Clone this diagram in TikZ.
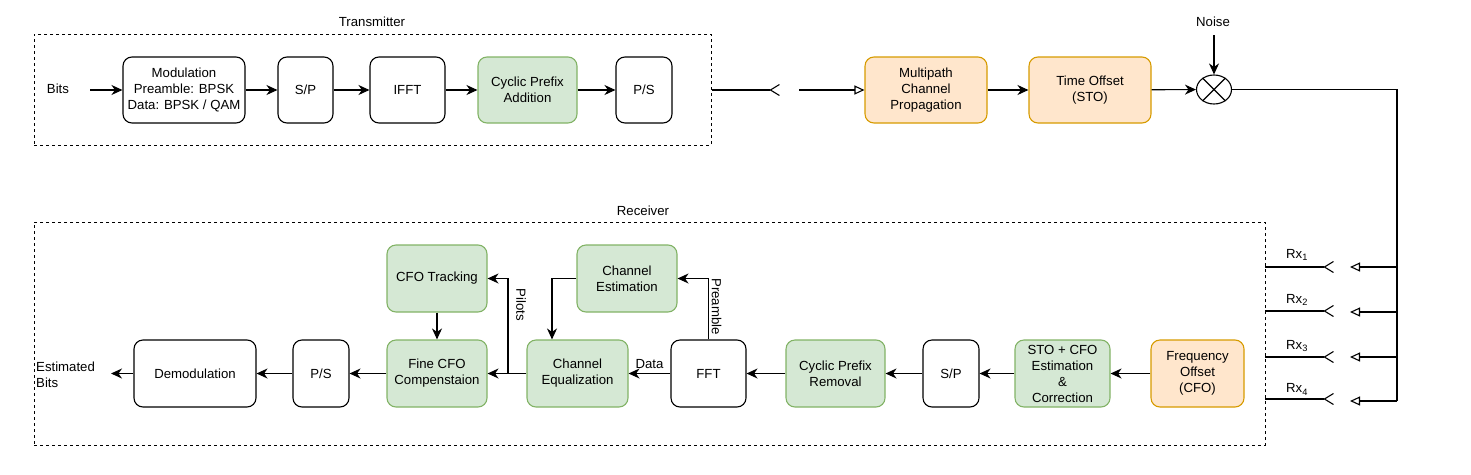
\documentclass[tikz,border=0pt]{standalone}
\usepackage{fontspec}
\setmainfont{Liberation Sans}
\usetikzlibrary{arrows.meta,shapes.geometric,calc}
\definecolor{gfill}{HTML}{D5E8D4}
\definecolor{gline}{HTML}{82B366}
\definecolor{ofill}{HTML}{FFE6CC}
\definecolor{oline}{HTML}{D79B00}
\tikzset{
  blk/.style={draw=black, rounded corners=9pt, line width=1.1pt, align=center, inner sep=2pt, fill=white, minimum height=66},
  grn/.style={blk, fill=gfill, draw=gline},
  org/.style={blk, fill=ofill, draw=oline},
  arr/.style={line width=1.1pt, -{Stealth[length=11pt,width=10pt,inset=3.5pt]}},
  otri/.style={line width=1.1pt, -{Triangle[open,length=10pt,width=9pt]}},
  barb/.style={line width=1.1pt, -{Straight Barb[reversed,length=9pt,width=11pt]}},
  wire/.style={line width=1.1pt},
  frame/.style={draw, dash pattern=on 3pt off 3pt, line width=1pt, inner sep=0pt},
  lbl/.style={inner sep=1pt}
}
\begin{document}
\begin{tikzpicture}[x=1pt,y=-1pt,font=\fontsize{13.2}{16}\selectfont]
\useasboundingbox (0,0) rectangle (1471,474);
% frames
\node[frame, minimum width=677, minimum height=111] (tx) at (372.5,89.5) {};
\node[lbl] (txl) at (372,22) {Transmitter};
\node[frame, minimum width=1231, minimum height=223] (rx) at (649.5,333.5) {};
\node[lbl] (rxl) at (643,211) {Receiver};
% transmitter
\node[lbl] (bits) at (58,89) {Bits};
\coordinate (bitsout) at (90,90);
\node[blk, minimum width=122] (mod) at (184,90) {Modulation\\Preamble: BPSK\\Data: BPSK / QAM};
\node[blk, minimum width=55] (sp1) at (305.5,90) {S/P};
\node[blk, minimum width=75] (ifft) at (407.5,90) {IFFT};
\node[grn, minimum width=99] (cpa) at (527.5,90) {Cyclic Prefix\\Addition};
\node[blk, minimum width=56] (ps1) at (644,90) {P/S};
\draw[arr] (bitsout) -- (mod.west);
\draw[arr] (mod) -- (sp1);
\draw[arr] (sp1) -- (ifft);
\draw[arr] (ifft) -- (cpa);
\draw[arr] (cpa) -- (ps1);
% channel
\coordinate (txend) at (780,90);
\coordinate (chin) at (799,90);
\node[org, minimum width=122] (mp) at (926,90) {Multipath\\Channel\\Propagation};
\node[org, minimum width=122] (sto) at (1090,90) {Time Offset\\(STO)};
\node[ellipse, draw, line width=1.1pt, minimum width=35, minimum height=29, inner sep=0pt] (mix) at (1214,89.5) {};
\draw[wire] (mix.45) -- (mix.225) (mix.135) -- (mix.315);
\node[lbl] (noise) at (1213,22) {Noise};
\coordinate (noisein) at (1214,35);
\draw[barb] (tx.east |- txend) -- (txend);
\draw[otri] (chin) -- (mp.west);
\draw[arr] (mp) -- (sto);
\draw[arr] (sto) -- (mix);
\draw[arr] (noisein) -- (mix.north);
% rx branches
\coordinate (bus) at (1397,89.5);
\coordinate (busend) at (1397,401);
\draw[wire] (mix.east) -- (bus) -- (busend);
\foreach \i/\yl/\yr/\ly in {1/267/267/255, 2/311/312/300, 3/357/357/346, 4/399/401/389.5}{
  \coordinate (rl\i) at (1265,\yl);
  \coordinate (rm\i) at (1334,\yl);
  \coordinate (rt\i) at (1350,\yr);
  \coordinate (rb\i) at (1397,\yr);
  \draw[barb] (rl\i) -- (rm\i);
  \draw[otri] (rb\i) -- (rt\i);
  \node[lbl] (rxlab\i) at (1297,\ly) {Rx\textsubscript{\i}};
}
% receiver chain
\node[org, minimum width=93, minimum height=67] (cfo) at (1197.5,373.5) {Frequency\\Offset\\(CFO)};
\node[grn, minimum width=95, minimum height=67] (stocfo) at (1062.5,373.5) {STO + CFO\\Estimation\\\&\\Correction};
\node[blk, minimum width=56, minimum height=67] (sp2) at (951,373.5) {S/P};
\node[grn, minimum width=99, minimum height=67] (cpr) at (835.5,373.5) {Cyclic Prefix\\Removal};
\node[blk, minimum width=75, minimum height=67] (fft) at (708.5,373.5) {FFT};
\node[grn, minimum width=101, minimum height=67] (eq) at (577.5,373.5) {Channel\\Equalization};
\node[grn, minimum width=100, minimum height=67] (fine) at (437,373.5) {Fine CFO\\Compenstaion};
\node[blk, minimum width=56, minimum height=67] (ps2) at (321,373.5) {P/S};
\node[blk, minimum width=122, minimum height=67] (demod) at (195,373.5) {Demodulation};
\node[grn, minimum width=100, minimum height=67] (chest) at (627,278.5) {Channel\\Estimation};
\node[grn, minimum width=100, minimum height=67] (track) at (437,278.5) {CFO Tracking};
\node[lbl, anchor=west, align=left] (est) at (35,375) {Estimated\\Bits};
\coordinate (estin) at (111,373.5);
\coordinate (br) at (508,373.5);
\draw[arr] (cfo) -- (stocfo);
\draw[arr] (stocfo) -- (sp2);
\draw[arr] (sp2) -- (cpr);
\draw[arr] (cpr) -- (fft);
\draw[arr] (fft) -- node[lbl, above=3pt] (datal) {Data} (eq);
\draw[arr] (fft.north) |- (chest.east);
\draw[arr] (chest.west) -| ([xshift=-25.5pt]eq.north);
\draw[arr] (eq) -- (fine);
\draw[arr] (br) |- (track.east);
\draw[arr] (track) -- (fine);
\draw[arr] (fine) -- (ps2);
\draw[arr] (ps2) -- (demod);
\draw[arr] (demod.west) -- (estin);
\node[lbl, rotate=-90] (pilots) at (521,305) {Pilots};
\node[lbl, rotate=-90] (pre) at (716.5,306.5) {Preamble};
\end{tikzpicture}
\end{document}
